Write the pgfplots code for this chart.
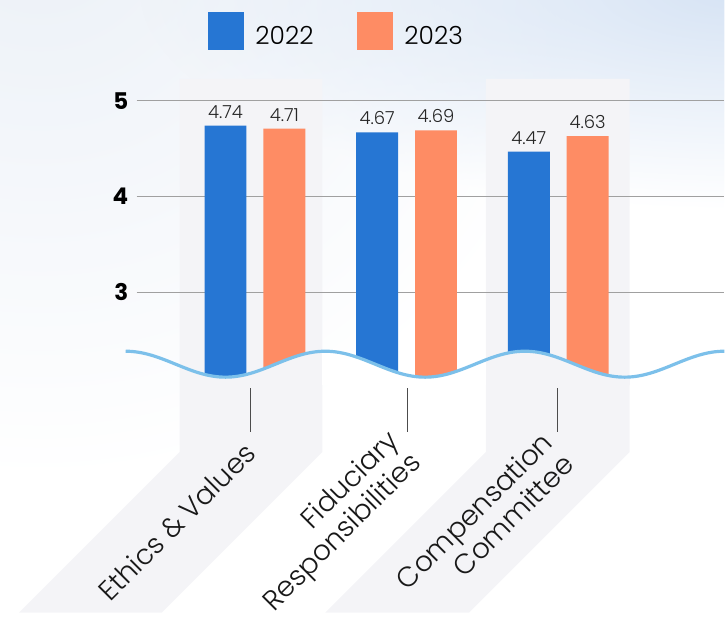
\documentclass[border=0pt]{standalone}
\usepackage{pgfplots}
\pgfplotsset{compat=1.18}
\usetikzlibrary{fadings}
\usepackage{fontspec}
\setmainfont{Poppins}
\newfontfamily\poplight{Poppins Light}
\definecolor{c22}{HTML}{2676D3}
\definecolor{c23}{HTML}{FE8C64}
\definecolor{band}{HTML}{F4F4F7}
\definecolor{wavec}{HTML}{7CC0EA}
\definecolor{gridc}{HTML}{A0A0A0}
\definecolor{skyA}{HTML}{D6E3F4}
\definecolor{skyB}{HTML}{EBF0F7}
\tikzfading[name=softglow, inner color=transparent!0, outer color=transparent!100]
\begin{document}
\begin{tikzpicture}
\begin{scope}[x=0.5pt,y=-0.5pt,shift={(-68.45pt,189.7pt)}]
\useasboundingbox (0,0) rectangle (726,614);
\begin{scope}
\clip (0,0) rectangle (726,614);
\fill[skyB, path fading=softglow] (40,-80) ellipse (560 and 560);
\fill[skyA, path fading=softglow] (740,-10) ellipse (600 and 220);
\end{scope}
\fill[band] (180,79) -- (323,79) -- (323,453) -- (162,614) -- (19,614) -- (180,453) -- cycle;
\fill[band] (487,79) -- (631,79) -- (631,453) -- (470,614) -- (326,614) -- (487,453) -- cycle;
\end{scope}
\begin{axis}[
  at={(0,0)}, anchor=south west,
  scale only axis,
  x=76pt, y=48pt,
  xmin=-0.78, xmax=3.09, ymin=2.1, ymax=5.2,
  ybar=8.5pt, bar width=21pt,
  axis line style={draw=none},
  major tick length=0pt,
  ytick={3,4,5},
  xtick={-0.03,1,2},
  xticklabels={Ethics \& Values, {Fiduciary\\Responsibilities}, {Compensation\\Committee}},
  ymajorgrids, grid style={gridc, line width=0.6pt},
  /pgf/number format/assume math mode=true,
  yticklabel style={font=\bfseries\fontsize{11.5}{12}\selectfont, text=black, inner sep=0pt, xshift=-4pt},
  xticklabel style={font=\poplight\fontsize{14}{15.5}\selectfont, rotate=45, anchor=east, align=right, inner sep=0pt, text=black!90},
  xticklabel shift=34.8pt,
  nodes near coords={\pgfmathprintnumber[fixed,fixed zerofill,precision=2]{\pgfplotspointmeta}},
  nodes near coords style={font=\poplight\fontsize{9}{10}\selectfont, text=black!85, inner sep=0pt, anchor=south, yshift=3.5pt},
  legend style={draw=none, fill=none, at={(0.1209,1.2345)}, anchor=north west, legend columns=2, inner sep=0pt, outer sep=0pt,
    /tikz/every odd column/.append style={column sep=5.5pt},
    /tikz/every even column/.append style={column sep=21.5pt},
    font=\poplight\fontsize{12.5}{14}\selectfont, nodes={inner sep=0pt}},
]
\addplot[fill=c22, draw=none, legend image code/.code={\fill[c22] (0pt,-6.5pt) rectangle (18.5pt,12.5pt);}] coordinates {(0,4.74) (1,4.67) (2,4.47)};
\addplot[fill=c23, draw=none, legend image code/.code={\fill[c23] (0pt,-6.5pt) rectangle (18.5pt,12.5pt);}] coordinates {(0,4.71) (1,4.69) (2,4.63)};
\legend{2022, 2023}
\end{axis}
\begin{scope}[x=0.5pt,y=-0.5pt,shift={(-68.45pt,189.7pt)}]
\begin{scope}
\clip (126,352) cos (176,365) sin (226,378) cos (276,365) sin (326,352) cos (376,365) sin (426,378) cos (476,365) sin (526,352) cos (576,365) sin (626,378) cos (676,365) sin (726,352) -- (726,386) -- (126,386) -- cycle;
\fill[white] (323,340) rectangle (487,390);
\fill[band] (180,340) rectangle (323,390);
\fill[band] (487,340) rectangle (631,390);
\end{scope}
\draw[wavec, line width=1.6pt] (126,352) cos (176,365) sin (226,378) cos (276,365) sin (326,352) cos (376,365) sin (426,378) cos (476,365) sin (526,352) cos (576,365) sin (626,378) cos (676,365) sin (726,352);
\foreach \x in {251,408,559} \draw[black!70, line width=0.6pt] (\x,389) -- (\x,433);
\end{scope}
\end{tikzpicture}
\end{document}
